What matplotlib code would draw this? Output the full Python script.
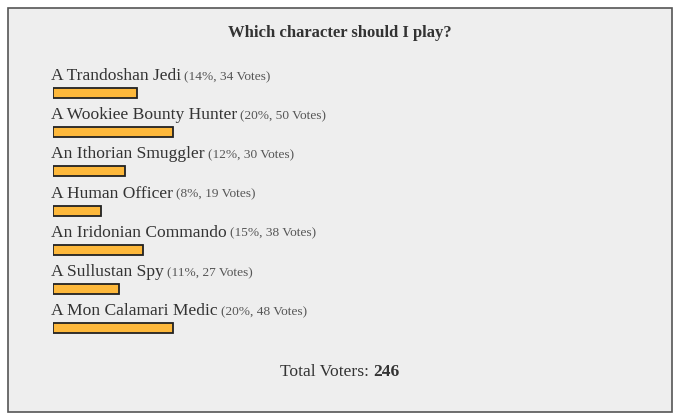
import matplotlib
matplotlib.use("Agg")
import matplotlib.pyplot as plt
from matplotlib.patches import Rectangle
from matplotlib.transforms import offset_copy

title = "Which character should I play?"
choices = [
    "A Trandoshan Jedi",
    "A Wookiee Bounty Hunter",
    "An Ithorian Smuggler",
    "A Human Officer",
    "An Iridonian Commando",
    "A Sullustan Spy",
    "A Mon Calamari Medic",
]
percents = [14, 20, 12, 8, 15, 11, 20]
votes = [34, 50, 30, 19, 38, 27, 48]
total_voters = 246

W, H = 680, 419
fig = plt.figure(figsize=(W / 100, H / 100), dpi=100)
fig.patch.set_facecolor("white")

# frame of the poll widget
fig.patches.append(Rectangle((8 / W, 1 - 412 / H), 664 / W, 404 / H,
                             transform=fig.transFigure, facecolor="#eeeeee",
                             edgecolor="#555555", linewidth=1.2, zorder=-5))

# bar axes: x in percent, 100% = 600px; one row every ~39px
step = (328 - 93) / 6
ax = fig.add_axes([53 / W, 0, 600 / W, 1])
ax.set_zorder(2)
ax.set_xlim(0, 100)
ax.set_ylim((H - 93) / step, -93 / step)
ax.axis("off")

ax.barh(range(len(choices)), percents, height=10 / step, left=0,
        color="#fdb83b", edgecolor="#222222", linewidth=1.3)

font = "Liberation Serif"
fig.canvas.draw()
renderer = fig.canvas.get_renderer()
for i, (name, p, v) in enumerate(zip(choices, percents, votes)):
    t = ax.text(-0.3, i - 13 / step, name, fontsize=12.6, family=font,
                color="#333333", va="baseline", ha="left")
    w = t.get_window_extent(renderer).width
    tr = offset_copy(ax.transData, fig=fig, x=w + 3, y=0, units="dots")
    ax.text(-0.3, i - 13 / step, f"({p}%, {v} Votes)", fontsize=9.6,
            family=font, color="#555555", va="baseline", ha="left",
            transform=tr)

fig.text(0.5, 1 - 33 / H, title, fontsize=12, family=font, weight="bold",
         color="#333333", ha="center", va="center")

t1 = fig.text(0, 0, "Total Voters:", fontsize=12.6, family=font, color="#333333")
t2 = fig.text(0, 0, str(total_voters), fontsize=12.6, family=font,
              weight="bold", color="#333333")
w1 = t1.get_window_extent(renderer).width + 4
w2 = t2.get_window_extent(renderer).width
x0 = (W - (w1 + w2)) / 2 / W
t1.set_position((x0, 1 - 376 / H))
t2.set_position((x0 + w1 / W, 1 - 376 / H))

fig.savefig("out.png", dpi=100)
